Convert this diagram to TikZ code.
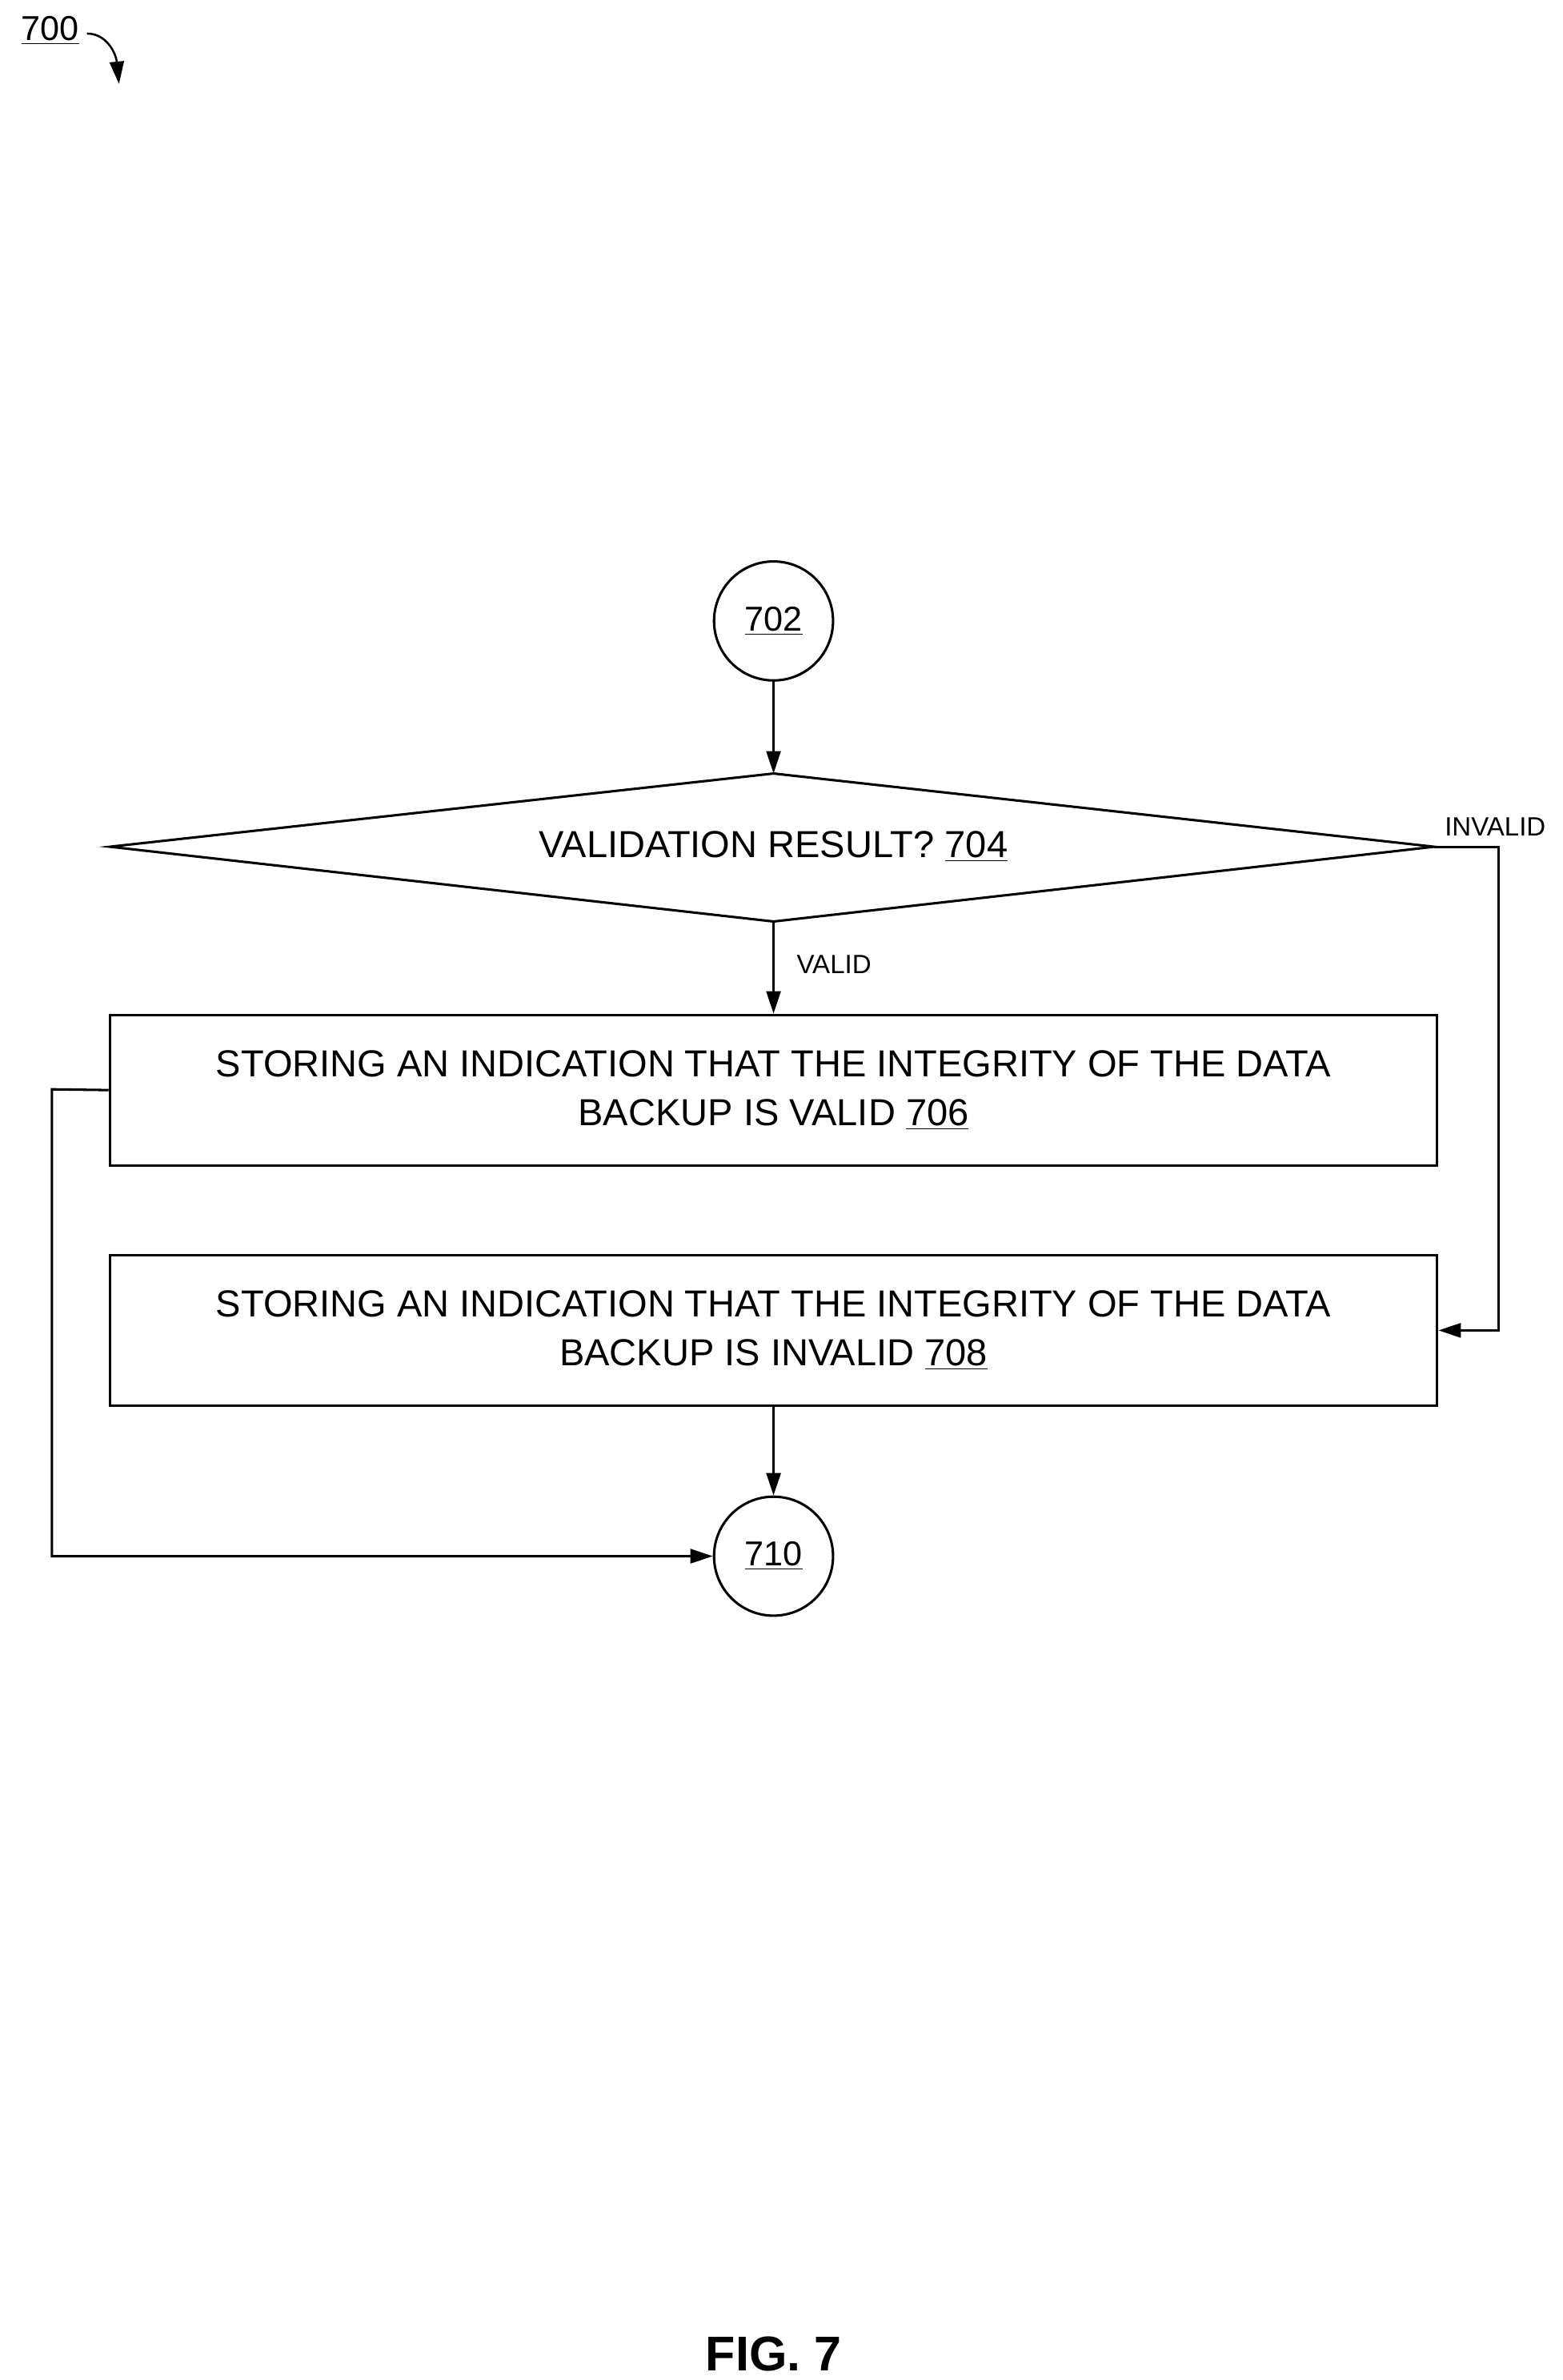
\documentclass[tikz,border=0pt]{standalone}
\usepackage{fontspec}
\setmainfont{Liberation Sans}
\usetikzlibrary{arrows.meta}
\begin{document}
\begin{tikzpicture}[x=0.75pt,y=-0.75pt,
  line width=1.2pt,
  arr/.style={-{Triangle[length=11pt,width=7pt]}},
  circ/.style={draw,circle,minimum size=58.5pt,inner sep=0pt,font=\fontsize{17}{20}\selectfont},
  box/.style={draw,minimum width=652.5pt,minimum height=74pt,align=center,font=\fontsize{18.5}{24}\selectfont},
  lbl/.style={font=\fontsize{13}{15}\selectfont}]
\useasboundingbox (0,0) rectangle (1024,1560);
\node[font=\fontsize{17}{20}\selectfont] (n700) at (33,20) {\underline{700}};
\coordinate (a700) at (78,55);
\draw[arr,line width=1pt] (57,22) .. controls (70,22) and (76,35) .. (a700);
\node[circ] (c702) at (507,407) {\underline{702}};
\coordinate (dl) at (72,555); \coordinate (dr) at (940,555);
\coordinate (dt) at (507,507); \coordinate (db) at (507,604);
\draw (dl) -- (dt) -- (dr) -- (db) -- cycle;
\node[font=\fontsize{18.5}{22}\selectfont] (d704) at (507,555) {VALIDATION RESULT? \underline{704}};
\node[box] (b706) at (507,714.5) {STORING AN INDICATION THAT THE INTEGRITY OF THE DATA\\BACKUP IS VALID \underline{706}};
\node[box] (b708) at (507,872) {STORING AN INDICATION THAT THE INTEGRITY OF THE DATA\\BACKUP IS INVALID \underline{708}};
\node[circ] (c710) at (507,1020) {\underline{710}};
\draw[arr] (c702) -- (dt);
\draw[arr] (db) -- (b706);
\node[lbl,anchor=west] (lv) at (517,632) {VALID};
\node[lbl] (li) at (980,542) {INVALID};
\coordinate (r1) at (982,555); \coordinate (r2) at (982,872);
\draw[arr] (dr) -- (r1) -- (r2) -- (b708.east);
\coordinate (l1) at (34,714); \coordinate (l2) at (34,1020);
\draw[arr] (b706.west) -- (l1) -- (l2) -- (c710.west);
\draw[arr] (b708) -- (c710);
\node[font=\bfseries\fontsize{24}{28}\selectfont] (fig) at (507,1543) {FIG. 7};
\end{tikzpicture}
\end{document}
